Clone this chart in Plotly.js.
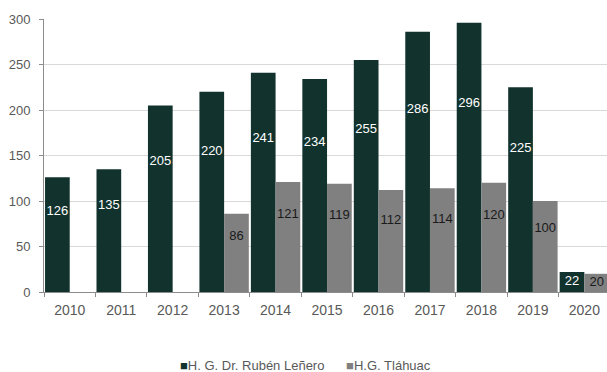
<!DOCTYPE html>
<html><head><meta charset="utf-8">
<script src="https://cdn.plot.ly/plotly-3.0.1.min.js"></script>
<style>html,body{margin:0;padding:0;background:#fff}#c{width:607px;height:372px}</style>
</head><body><div id="c"></div>
<script>
const years = ['2010','2011','2012','2013','2014','2015','2016','2017','2018','2019','2020'];
const lenero = [126,135,205,220,241,234,255,286,296,225,22];
const tlahuac = [null,null,null,86,121,119,112,114,120,100,20];
const nameA = 'H. G. Dr. Rubén Leñero';
const nameB = 'H.G. Tláhuac';
const colA = '#12332d', colB = '#808080';
const labelFrac = 0.7;

function labelY(arr){ return arr.map(v => v==null ? null : (v < 30 ? v/2 : v*labelFrac)); }

const traces = [
  {type:'bar', x:years, y:lenero, name:nameA, marker:{color:colA}, offsetgroup:'a', alignmentgroup:'g', hoverinfo:'skip', showlegend:false},
  {type:'bar', x:years, y:tlahuac, name:nameB, marker:{color:colB}, offsetgroup:'b', alignmentgroup:'g', hoverinfo:'skip', showlegend:false},
  {type:'scatter', mode:'text', x:years, y:labelY(lenero), text:lenero.map(String), offsetgroup:'a', alignmentgroup:'g',
   textfont:{family:'Liberation Sans', size:13, color:'#ffffff'}, showlegend:false, hoverinfo:'skip', cliponaxis:false},
  {type:'scatter', mode:'text', x:years, y:labelY(tlahuac), text:tlahuac.map(v=>v==null?'':String(v)), offsetgroup:'b', alignmentgroup:'g',
   textfont:{family:'Liberation Sans', size:13, color:'#1a1a1a'}, showlegend:false, hoverinfo:'skip', cliponaxis:false}
];

const legendText = '<span style="color:'+colA+'">■</span>' + nameA +
  '\u00a0\u00a0\u00a0\u00a0\u00a0\u00a0<span style="color:'+colB+'">■</span>' + nameB;

const layout = {
  width:607, height:372,
  margin:{l:44, r:0, t:19, b:80},
  paper_bgcolor:'#ffffff', plot_bgcolor:'#ffffff',
  barmode:'group', bargap:0.04, bargroupgap:0,
  scattermode:'group', scattergap:0.04,
  showlegend:false,
  annotations:[{xref:'paper', yref:'paper', x:0.465, y:-0.27, xanchor:'center', yanchor:'middle', showarrow:false,
    text:legendText, font:{family:'Liberation Sans Narrow, Liberation Sans', size:13, color:'#595959'}}],
  xaxis:{type:'category', range:[-0.5,10.44], tickson:'boundaries', ticks:'outside', ticklen:4, tickcolor:'#8c8c8c',
    showline:true, linecolor:'#8c8c8c', linewidth:1, showgrid:false, zeroline:false, ticklabelstandoff:5,
    tickfont:{family:'Liberation Sans Narrow, Liberation Sans', size:14, color:'#595959'}},
  yaxis:{range:[0,300], dtick:50, tick0:0, ticks:'outside', ticklen:4, tickcolor:'#8c8c8c',
    showline:true, linecolor:'#8c8c8c', linewidth:1, showgrid:true, gridcolor:'#d9d9d9', zeroline:false, ticklabelstandoff:6,
    tickfont:{family:'Liberation Sans', size:13, color:'#595959'}}
};
Plotly.newPlot('c', traces, layout, {staticPlot:true, displayModeBar:false});
</script></body></html>
